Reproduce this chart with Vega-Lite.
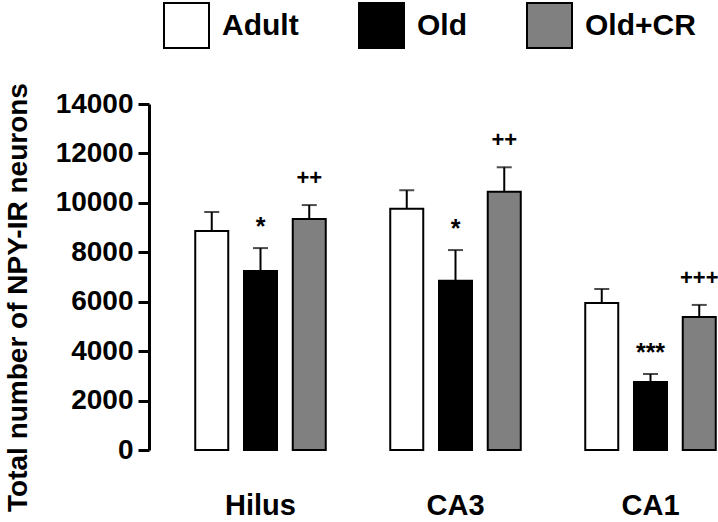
{
  "$schema": "https://vega.github.io/schema/vega-lite/v6.json",
  "width": 569,
  "height": 346,
  "autosize": {"type": "none"},
  "padding": {"left": 149, "top": 104, "right": 0, "bottom": 72},
  "background": "white",
  "config": {"view": {"stroke": null}, "font": "Liberation Sans"},
  "data": {
    "values": [
      {"group": "Hilus", "condition": "Adult", "value": 8860, "upper": 9630, "sig": ""},
      {"group": "Hilus", "condition": "Old", "value": 7240, "upper": 8170, "sig": "*"},
      {"group": "Hilus", "condition": "Old+CR", "value": 9350, "upper": 9910, "sig": "++"},
      {"group": "CA3", "condition": "Adult", "value": 9760, "upper": 10510, "sig": ""},
      {"group": "CA3", "condition": "Old", "value": 6850, "upper": 8090, "sig": "*"},
      {"group": "CA3", "condition": "Old+CR", "value": 10450, "upper": 11440, "sig": "++"},
      {"group": "CA1", "condition": "Adult", "value": 5950, "upper": 6515, "sig": ""},
      {"group": "CA1", "condition": "Old", "value": 2750, "upper": 3075, "sig": "***"},
      {"group": "CA1", "condition": "Old+CR", "value": 5380, "upper": 5870, "sig": "+++"}
    ]
  },
  "encoding": {
    "x": {
      "field": "group", "type": "nominal", "sort": ["Hilus", "CA3", "CA1"],
      "scale": {"range": [0, 613], "paddingInner": 0, "paddingOuter": 0.0718},
      "axis": {"title": null, "domain": false, "ticks": false, "labelAngle": 0, "labelFontSize": 29, "labelFontWeight": "bold", "labelColor": "black", "labelPadding": 41, "labelBaseline": "top"}
    },
    "xOffset": {
      "field": "condition", "type": "nominal", "sort": ["Adult", "Old", "Old+CR"],
      "scale": {"paddingInner": 0.323, "paddingOuter": 0.6615}
    }
  },
  "layer": [
    {
      "mark": {"type": "bar", "stroke": "black", "strokeWidth": 2},
      "encoding": {
        "y": {
          "field": "value", "type": "quantitative", "title": "Total number of NPY-IR neurons",
          "scale": {"domain": [0, 14000], "nice": false},
          "axis": {
            "values": [0, 2000, 4000, 6000, 8000, 10000, 12000, 14000], "format": "d",
            "grid": false, "labelFontSize": 28, "labelFontWeight": "bold", "labelColor": "black",
            "labelFlush": false, "labelOverlap": false, "labelPadding": 5,
            "tickSize": 11, "tickWidth": 3, "tickColor": "black",
            "domainWidth": 3, "domainColor": "black",
            "titleFontSize": 28, "titleFontWeight": "bold", "titleColor": "black",
            "titleAngle": -90, "titleX": -123, "titleY": 193, "titleBaseline": "alphabetic", "titleAlign": "center"
          }
        },
        "fill": {
          "field": "condition", "type": "nominal",
          "scale": {"domain": ["Adult", "Old", "Old+CR"], "range": ["#ffffff", "#000000", "#808080"]},
          "legend": {
            "orient": "none", "legendX": 14, "legendY": -102, "direction": "horizontal", "title": null,
            "symbolType": "square", "symbolSize": 2025, "symbolStrokeColor": "black", "symbolStrokeWidth": 2,
            "symbolOpacity": 1, "labelFontSize": 30, "labelFontWeight": "bold", "labelColor": "black",
            "labelOffset": 12, "columnPadding": 56
          }
        }
      }
    },
    {
      "mark": {"type": "rule", "color": "black", "strokeWidth": 2},
      "encoding": {
        "y": {"field": "value", "type": "quantitative", "title": "Total number of NPY-IR neurons"},
        "y2": {"field": "upper"}
      }
    },
    {
      "mark": {"type": "tick", "color": "black", "size": 15, "thickness": 2},
      "encoding": {
        "y": {"field": "upper", "type": "quantitative", "title": "Total number of NPY-IR neurons"}
      }
    },
    {
      "transform": [{"filter": "indexof(datum.sig, '+') >= 0"}],
      "mark": {"type": "text", "fontSize": 22, "fontWeight": "bold", "baseline": "middle", "dy": -27, "color": "black"},
      "encoding": {
        "y": {"field": "upper", "type": "quantitative", "title": "Total number of NPY-IR neurons"},
        "text": {"field": "sig"}
      }
    },
    {
      "transform": [{"filter": "indexof(datum.sig, '*') >= 0"}],
      "mark": {"type": "text", "fontSize": 25, "fontWeight": "bold", "baseline": "middle", "dy": -21.5, "color": "black"},
      "encoding": {
        "y": {"field": "upper", "type": "quantitative", "title": "Total number of NPY-IR neurons"},
        "text": {"field": "sig"}
      }
    }
  ]
}
